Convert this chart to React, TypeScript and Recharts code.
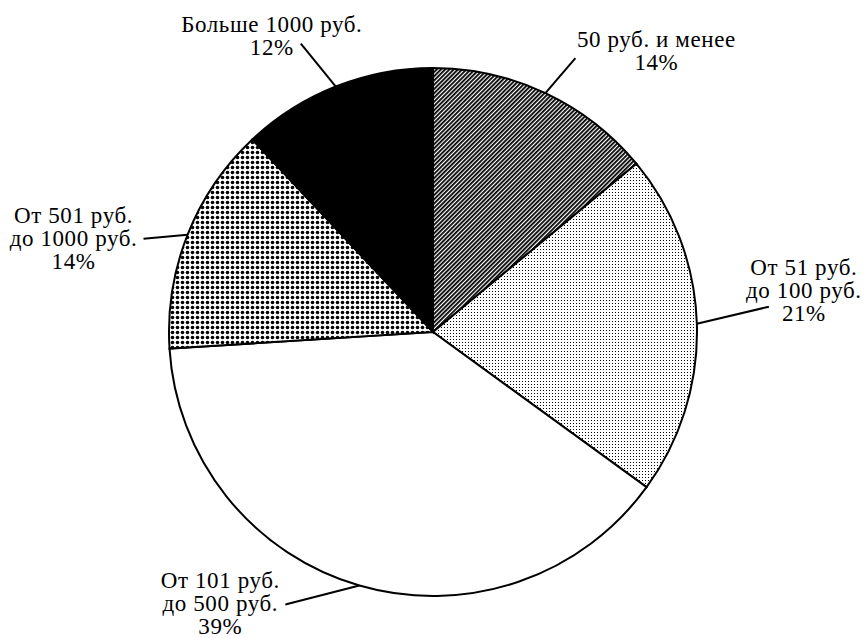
import { PieChart, Pie, Cell } from "recharts";
import type { PieLabelRenderProps } from "recharts";

// категории (подписи по строкам) и доли в процентах
const categoryLines: string[][] = [
  ["50 руб. и менее"],
  ["От 51 руб.", "до 100 руб."],
  ["От 101 руб.", "до 500 руб."],
  ["От 501 руб.", "до 1000 руб."],
  ["Больше 1000 руб."],
];
const shares = [14, 21, 39, 14, 12];

const chartData = shares.map((value, i) => ({
  name: categoryLines[i].join(" "),
  value,
}));

// заливки секторов: штриховка, мелкие точки, белый, крупные точки, чёрный
const FILLS = [
  "url(#hatch)",
  "url(#fineDots)",
  "#ffffff",
  "url(#bigDots)",
  "#000000",
];

// смещения выноски и текста относительно точки на краю сектора
const LEADERS = [
  { lx: 30, ly: -35, tx: 111, ty: -46 },
  { lx: 72, ly: -17, tx: 107, ty: -49 },
  { lx: -74, ly: 19, tx: -139, ty: 2 },
  { lx: -44, ly: 4, tx: -114, ty: -12 },
  { lx: -35, ly: -43, tx: -64, ty: -55 },
];

const RADIAN = Math.PI / 180;
const LINE_H = 23;
const FONT = "Liberation Serif, Times New Roman, serif";

const renderLabel = ({ cx, cy, midAngle, outerRadius, index }: PieLabelRenderProps) => {
  if (cx == null || cy == null || outerRadius == null || index == null) return null;
  const angle = -(midAngle ?? 0) * RADIAN;
  const ex = Number(cx) + Number(outerRadius) * Math.cos(angle);
  const ey = Number(cy) + Number(outerRadius) * Math.sin(angle);
  const o = LEADERS[index];
  const lines = [...categoryLines[index], `${shares[index]}%`];
  return (
    <g key={`lbl-${index}`}>
      <line x1={ex} y1={ey} x2={ex + o.lx} y2={ey + o.ly} stroke="#000" strokeWidth={2} />
      {lines.map((t, i) => (
        <text
          key={i}
          x={ex + o.tx}
          y={ey + o.ty + i * LINE_H}
          textAnchor="middle"
          fill="#000"
          fontFamily={FONT}
          fontSize={23}
          letterSpacing={0.6}
        >
          {t}
        </text>
      ))}
    </g>
  );
};

export default function App() {
  return (
    <div
      style={{
        position: "absolute",
        left: 0,
        top: 0,
        background: "#fff",
        fontFamily: FONT,
      }}
    >
      <PieChart width={868} height={638} margin={{ top: 0, right: 0, bottom: 0, left: 0 }}>
        <defs>
          <pattern
            id="hatch"
            width={3}
            height={3}
            patternUnits="userSpaceOnUse"
            patternTransform="rotate(45)"
          >
            <rect width={3} height={3} fill="#fff" />
            <rect width={1.8} height={3} fill="#000" />
          </pattern>
          <pattern id="fineDots" width={3} height={3} patternUnits="userSpaceOnUse">
            <rect width={3} height={3} fill="#fff" />
            <rect width={1} height={1} fill="#000" />
          </pattern>
          <pattern id="bigDots" width={5} height={5} patternUnits="userSpaceOnUse">
            <rect width={5} height={5} fill="#fff" />
            <circle cx={2.5} cy={2.5} r={1.8} fill="#000" />
          </pattern>
        </defs>
        <Pie
          data={chartData}
          dataKey="value"
          nameKey="name"
          cx={433}
          cy={332}
          outerRadius={264}
          startAngle={90}
          endAngle={-270}
          labelLine={false}
          label={renderLabel}
          isAnimationActive={false}
        >
          {chartData.map((_, i) => (
            <Cell key={i} fill={FILLS[i]} stroke="#000" strokeWidth={2} />
          ))}
        </Pie>
      </PieChart>
    </div>
  );
}
